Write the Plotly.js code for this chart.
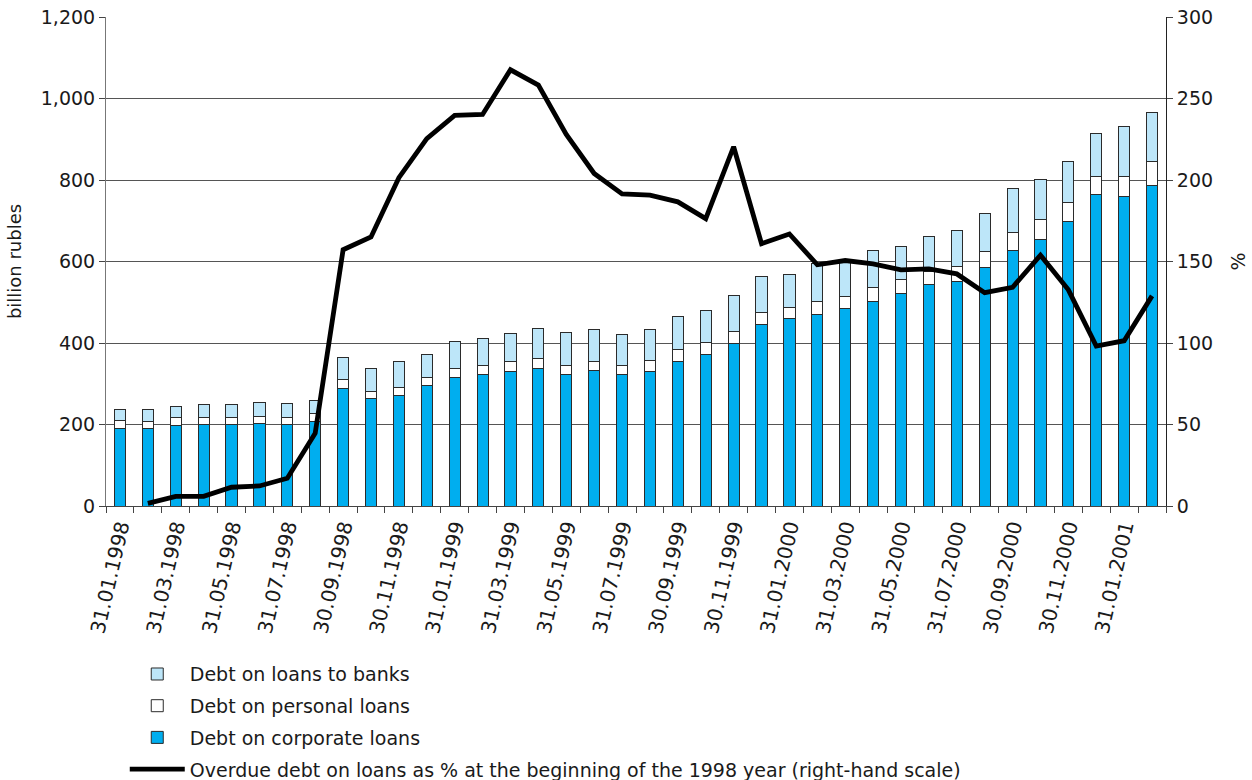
<!DOCTYPE html>
<html>
<head>
<meta charset="utf-8">
<script src="https://cdn.plot.ly/plotly-3.0.1.min.js"></script>
<style>
  html, body { margin: 0; padding: 0; background: #fff; }
  #chart { width: 1252px; height: 780px; }
</style>
</head>
<body>
<div id="chart"></div>
<script>
// Month-end dates (categories)
const dates = [
  "31.01.1998","28.02.1998","31.03.1998","30.04.1998","31.05.1998","30.06.1998",
  "31.07.1998","31.08.1998","30.09.1998","31.10.1998","30.11.1998","31.12.1998",
  "31.01.1999","28.02.1999","31.03.1999","30.04.1999","31.05.1999","30.06.1999",
  "31.07.1999","31.08.1999","30.09.1999","31.10.1999","30.11.1999","31.12.1999",
  "31.01.2000","29.02.2000","31.03.2000","30.04.2000","31.05.2000","30.06.2000",
  "31.07.2000","31.08.2000","30.09.2000","31.10.2000","30.11.2000","31.12.2000",
  "31.01.2001","28.02.2001"
];

// billion rubles
const corporateLoans = [
  190,189,197,199,199,202,200,208,289,263,271,295,
  316,322,331,337,322,333,322,331,355,372,398,446,
  459,470,484,503,522,544,550,585,627,655,698,765,
  759,787
];
const personalLoans = [
  19,19,19,19,19,18,18,19,21,19,21,20,
  21,23,23,25,23,22,22,26,28,30,31,28,
  29,31,30,32,33,31,38,39,44,47,47,44,
  50,59
];
const bankLoans = [
  27,28,29,31,31,33,33,32,55,55,62,58,
  66,65,70,74,80,77,77,77,82,78,87,88,
  80,95,92,93,81,87,88,93,109,99,101,105,
  122,120
];

// % of overdue debt at the beginning of 1998 (right-hand scale)
const overduePct = [
  null,1.6,5.9,5.9,11.5,12.3,17.0,44.7,157.2,165.0,201.4,225.4,
  239.7,240.2,267.6,258.2,228.0,204.0,191.5,190.7,186.6,176.3,220.4,160.9,
  166.9,148.0,150.6,148.6,144.9,145.5,142.4,130.9,134.2,153.9,132.6,98.1,
  101.4,128.9
];

const seriesNames = [
  "Debt on loans to banks",
  "Debt on personal loans",
  "Debt on corporate loans",
  "Overdue debt on loans as % at the beginning of the 1998 year (right-hand scale)"
];

const xIdx = dates.map((d, i) => i);
const labelIdx = xIdx.filter(i => i % 2 === 0);
const labelText = labelIdx.map(i => dates[i]);

const FONT = "DejaVu Sans, Liberation Sans, Arial, sans-serif";
const TXT = "#1a1a1a";
const outline = { color: "#2b2b2b", width: 1 };

const traces = [
  {
    type: "bar", x: xIdx, y: corporateLoans, name: seriesNames[2],
    marker: { color: "#00aeef", line: outline }, width: 0.4,
    legendgroup: "c", legendrank: 3, hovertext: dates
  },
  {
    type: "bar", x: xIdx, y: personalLoans, name: seriesNames[1],
    marker: { color: "#ffffff", line: outline }, width: 0.4,
    legendgroup: "p", legendrank: 2, hovertext: dates
  },
  {
    type: "bar", x: xIdx, y: bankLoans, name: seriesNames[0],
    marker: { color: "#bde6f9", line: outline }, width: 0.4,
    legendgroup: "b", legendrank: 1, hovertext: dates
  },
  {
    type: "scatter", mode: "lines", x: xIdx, y: overduePct, name: seriesNames[3],
    yaxis: "y2", line: { color: "#000000", width: 4.8 },
    legendgroup: "o", legendrank: 4, connectgaps: false, hovertext: dates
  }
];

const layout = {
  width: 1252, height: 780,
  paper_bgcolor: "#ffffff", plot_bgcolor: "#ffffff",
  font: { family: FONT, size: 19, color: TXT },
  margin: { l: 106, r: 86, t: 17, b: 274, autoexpand: false },
  barmode: "stack",
  showlegend: true,
  legend: {
    x: 0.0177, xanchor: "left", y: -0.305, yanchor: "top",
    orientation: "v", traceorder: "grouped", tracegroupgap: 4,
    itemwidth: 55, font: { family: FONT, size: 19, color: TXT },
    bgcolor: "rgba(0,0,0,0)"
  },
  xaxis: {
    range: [-0.5, 37.5], automargin: false,
    tickmode: "array", tickvals: labelIdx, ticktext: labelText,
    tickangle: -77, ticks: "", showgrid: false, zeroline: false,
    showline: true, linecolor: "#444", linewidth: 1,
    tickfont: { family: FONT, size: 20, color: TXT },
    minor: { tickmode: "linear", tick0: 0.5, dtick: 1, ticks: "outside", ticklen: 6, tickcolor: "#444", tickwidth: 1, showgrid: false }
  },
  yaxis: {
    range: [0, 1200], dtick: 200, tickformat: ",", automargin: false,
    ticks: "outside", ticklen: 6, tickcolor: "#444",
    showline: true, linecolor: "#777", linewidth: 1,
    showgrid: true, gridcolor: "#555", gridwidth: 1, zeroline: false,
    tickfont: { family: FONT, size: 19, color: TXT },
    title: { text: "billion rubles", font: { family: FONT, size: 18, color: TXT }, standoff: 14 }
  },
  yaxis2: {
    overlaying: "y", side: "right", automargin: false,
    range: [0, 300], dtick: 50,
    ticks: "outside", ticklen: 6, tickcolor: "#444",
    showline: true, linecolor: "#222", linewidth: 1,
    showgrid: false, zeroline: false,
    tickfont: { family: FONT, size: 19, color: TXT },
    title: { text: "%", font: { family: FONT, size: 19, color: TXT }, standoff: 19 }
  }
};

Plotly.newPlot("chart", traces, layout, { displayModeBar: false, staticPlot: true });
</script>
</body>
</html>
